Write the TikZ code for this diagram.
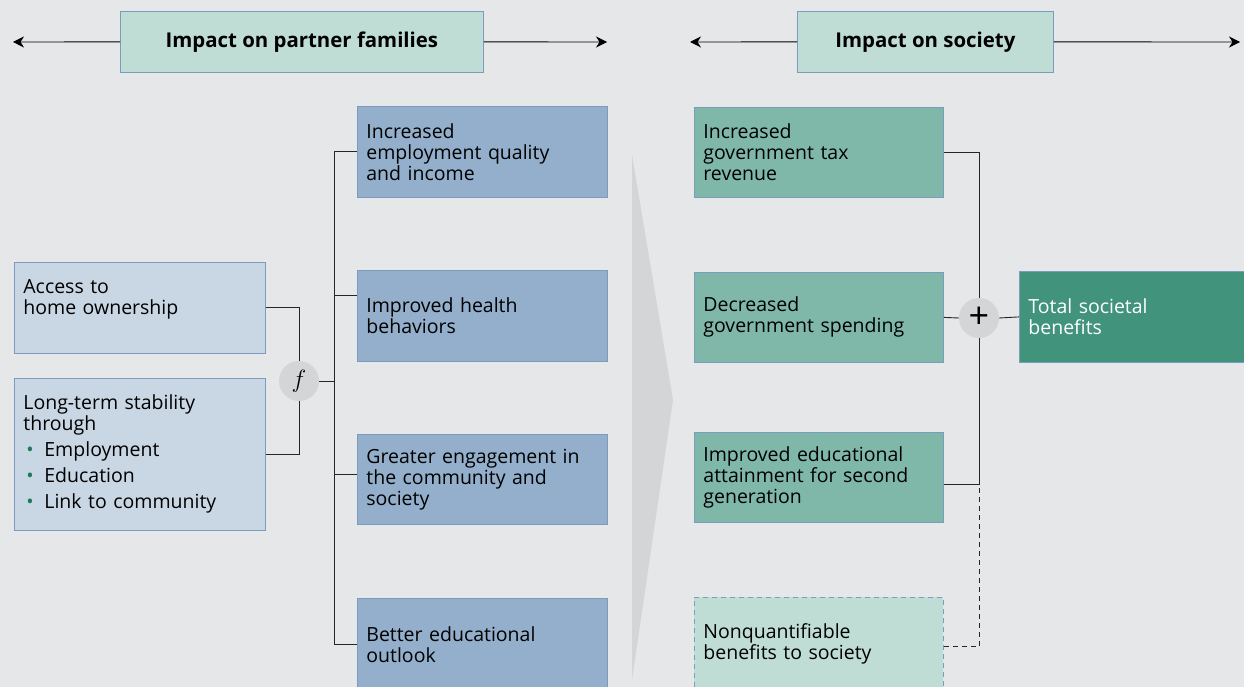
\documentclass[tikz,border=0pt]{standalone}
\usepackage{fontspec}
\setmainfont{Open Sans}
\usepackage{tikz}
\usetikzlibrary{arrows.meta}
\usepackage{xcolor}

\definecolor{bg}{HTML}{E6E7E9}
\definecolor{headfill}{HTML}{BFDCD5}
\definecolor{boxline}{HTML}{7C9CBF}
\definecolor{lightblue}{HTML}{C9D7E4}
\definecolor{midblue}{HTML}{93AFCB}
\definecolor{midgreen}{HTML}{7FB8A8}
\definecolor{darkgreen}{HTML}{41937C}
\definecolor{jointgray}{HTML}{D4D5D7}
\definecolor{dotgreen}{HTML}{1E7B5A}

\tikzset{
  box/.style={draw=boxline, line width=0.8pt, anchor=north west, inner xsep=9pt,
    align=left, font=\fontsize{19.5}{21}\selectfont},
  headbox/.style={draw=boxline, line width=0.8pt, fill=headfill, anchor=north west,
    font=\fontsize{20.4}{22}\selectfont\bfseries},
  joint/.style={circle, fill=jointgray, minimum size=40pt, inner sep=0pt},
  wire/.style={line width=0.9pt, black!85},
  dashwire/.style={dash pattern=on 5pt off 4pt}
}
\newcommand{\li}[1]{\makebox[21pt][l]{\hspace{3pt}\textcolor{dotgreen}{\textbullet}}#1}

\begin{document}
\begin{tikzpicture}[x=1pt,y=-1pt,>={Stealth[length=11pt,width=11pt,inset=3.5pt]}]
  \fill[bg] (0,0) rectangle (1244,687);
  \useasboundingbox (0,0) rectangle (1244,687);

  % headers
  \node[headbox, minimum width=363pt, minimum height=61pt] (hfam) at (120,11) {Impact on partner families};
  \node[headbox, minimum width=256pt, minimum height=61pt] (hsoc) at (797,11) {Impact on society};
  \coordinate (hfamL) at (13,42);
  \coordinate (hfamR) at (607,42);
  \coordinate (hsocL) at (690,42);
  \coordinate (hsocR) at (1240,42);
  \draw[->, line width=0.9pt] (hfam.west) -- (hfamL);
  \draw[->, line width=0.9pt] (hfam.east) -- (hfamR);
  \draw[->, line width=0.9pt] (hsoc.west) -- (hsocL);
  \draw[->, line width=0.9pt] (hsoc.east) -- (hsocR);

  % big grey wedge
  \fill[jointgray] (632,155) -- (673,400) -- (632,680) -- cycle;

  % drivers
  \node[box, fill=lightblue, text width=233pt, minimum height=91pt] (acc) at (14,262)
    {Access to\\home ownership\\~};
  \node[box, fill=lightblue, text width=233pt, minimum height=152pt] (stab) at (14,378)
    {Long-term stability\\through\\[5pt]\li{Employment}\\[5pt]\li{Education}\\[5pt]\li{Link to community}};

  % family outcomes
  \node[box, fill=midblue, text width=232pt, minimum height=91pt] (emp) at (357,106)
    {Increased\\employment quality\\and income};
  \node[box, fill=midblue, text width=232pt, minimum height=91pt] (hea) at (357,270)
    {Improved health\\behaviors};
  \node[box, fill=midblue, text width=232pt, minimum height=90pt] (eng) at (357,434)
    {Greater engagement in\\the community and\\society};
  \node[box, fill=midblue, text width=232pt, minimum height=92pt] (edu) at (357,598)
    {Better educational\\outlook};

  % society outcomes
  \node[box, fill=midgreen, text width=231pt, minimum height=90pt] (tax) at (694,107)
    {Increased\\government tax\\revenue};
  \node[box, fill=midgreen, text width=231pt, minimum height=90pt] (spe) at (694,272)
    {Decreased\\government spending};
  \node[box, fill=midgreen, text width=231pt, minimum height=90pt] (att) at (694,432)
    {Improved educational\\attainment for second\\generation};
  \node[box, fill=headfill, dashwire, text width=231pt, minimum height=92pt] (nq) at (694,597)
    {Nonquantifiable\\benefits to society};
  \node[box, fill=darkgreen, text=white, text width=222pt, minimum height=91pt] (tot) at (1019,271)
    {Total societal\\benefits};

  % joints
  \node[joint, font=\fontsize{28}{28}\selectfont] (fj) at (299,381) {$f$};
  \node[joint, font=\fontsize{36}{36}\selectfont] (pj) at (979,318) {\raisebox{1pt}{+}};
  \coordinate (bus) at (334,381);
  \coordinate (mrg) at (979,484);

  % left wiring
  \draw[wire] (acc.east) -| (fj.north);
  \draw[wire] (stab.east) -| (fj.south);
  \draw[wire] (fj.east) -- (bus);
  \draw[wire] (bus) |- (emp.west);
  \draw[wire] (bus) |- ([yshift=20pt]hea.west);
  \draw[wire] (bus) |- ([yshift=5pt]eng.west);
  \draw[wire] (bus) |- (edu.west);

  % right wiring
  \draw[wire] (tax.east) -| (pj.north);
  \draw[wire] (spe.east) -- (pj.west);
  \draw[wire] ([yshift=-7pt]att.east) -| (pj.south);
  \draw[wire, dashwire] ([yshift=-3pt]nq.east) -| (mrg);
  \draw[wire] (pj.east) -- (tot.west);
\end{tikzpicture}
\end{document}
